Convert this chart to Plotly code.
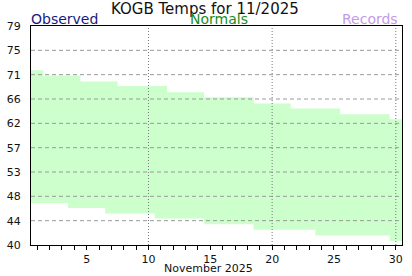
import plotly.graph_objects as go

days = list(range(1, 31))
normal_high = [71.1, 70.2, 70.2, 70.2, 69.1, 69.1, 69.1, 68.3, 68.3, 68.3,
               68.3, 67.2, 67.2, 67.2, 66.3, 66.3, 66.3, 66.3, 65.2, 65.2,
               65.2, 64.3, 64.3, 64.3, 64.3, 63.3, 63.3, 63.3, 63.3, 62.4]
normal_low = [47.5, 47.5, 47.5, 46.6, 46.6, 46.6, 45.6, 45.6, 45.6, 45.6,
              44.7, 44.7, 44.7, 44.7, 43.7, 43.7, 43.7, 43.7, 42.7, 42.7,
              42.7, 42.7, 42.7, 41.7, 41.7, 41.7, 41.7, 41.7, 41.7, 40.7]
y_ticktext = ["40", "44", "48", "53", "57", "62", "66", "71", "75", "79"]
x_tickvals = [5, 10, 15, 20, 25, 30]
x_gridvals = [10, 20, 30]
y_min, y_max = 40, 79

# step edges (each day spans d-0.5 .. d+0.5)
xs = [d - 0.5 for d in days] + [days[-1] + 0.5]
lo = normal_low + [normal_low[-1]]
hi = normal_high + [normal_high[-1]]

y_tickvals = [y_min + k * (y_max - y_min) / (len(y_ticktext) - 1) for k in range(len(y_ticktext))]

fig = go.Figure()
fig.add_trace(go.Scatter(x=xs, y=lo, mode="lines", line=dict(width=0, shape="hv"),
                         hoverinfo="skip", showlegend=False))
fig.add_trace(go.Scatter(x=xs, y=hi, mode="lines", line=dict(width=0, shape="hv"),
                         fill="tonexty", fillcolor="#ccffcc", hoverinfo="skip", showlegend=False))

shapes = []
for yv in y_tickvals[1:-1]:
    shapes.append(dict(type="line", xref="paper", x0=0, x1=1, yref="y", y0=yv, y1=yv,
                       line=dict(color="#999999", width=1, dash="4px,3px"), layer="above"))
for xv in x_gridvals:
    shapes.append(dict(type="line", xref="x", x0=xv, x1=xv, yref="paper", y0=0, y1=1,
                       line=dict(color="#777777", width=1, dash="1px,2px"), layer="above"))

font = "DejaVu Sans, Verdana, sans-serif"
fig.update_layout(
    width=412, height=276,
    margin=dict(l=31, r=10, t=26, b=31),
    paper_bgcolor="white", plot_bgcolor="white",
    font=dict(family=font, size=11, color="#111111"),
    shapes=shapes,
    showlegend=False,
    xaxis=dict(range=[0.5, 30.5], tickvals=x_tickvals, ticks="outside", ticklen=4,
               tickcolor="black", showgrid=False, zeroline=False, automargin=False,
               showline=True, linecolor="black", linewidth=1, mirror=True,
               minor=dict(dtick=1, tick0=0, ticks="outside", ticklen=4, tickcolor="black", showgrid=False),
               tickfont=dict(size=11)),
    yaxis=dict(range=[y_min, y_max], tickvals=y_tickvals, ticktext=y_ticktext,
               ticks="", showgrid=False, zeroline=False, automargin=False,
               showline=True, linecolor="black", linewidth=1, mirror=True,
               ticklabelstandoff=7, tickfont=dict(size=11)),
    annotations=[
        dict(text="KOGB Temps for 11/2025", xref="paper", yref="paper", x=0.47, y=1,
             xanchor="center", yanchor="middle", yshift=17, showarrow=False,
             font=dict(size=15, color="#111111")),
        dict(text="Observed", xref="paper", yref="paper", x=0, y=1, xanchor="left",
             yanchor="middle", yshift=7, xshift=-2, showarrow=False,
             font=dict(size=14, color="#1a1a80")),
        dict(text="Normals", xref="paper", yref="paper", x=0.5, y=1, xanchor="center",
             yanchor="middle", yshift=7, xshift=2, showarrow=False,
             font=dict(size=14, color="#228b22")),
        dict(text="Records", xref="paper", yref="paper", x=1, y=1, xanchor="right",
             yanchor="middle", yshift=7, xshift=-2, showarrow=False,
             font=dict(size=14, color="#c49be8")),
        dict(text="November 2025", xref="paper", yref="paper", x=0.5, y=0, xanchor="center",
             yanchor="middle", yshift=-23, xshift=-8, showarrow=False,
             font=dict(size=11, color="#111111")),
    ],
)

fig.write_html("out.html")
